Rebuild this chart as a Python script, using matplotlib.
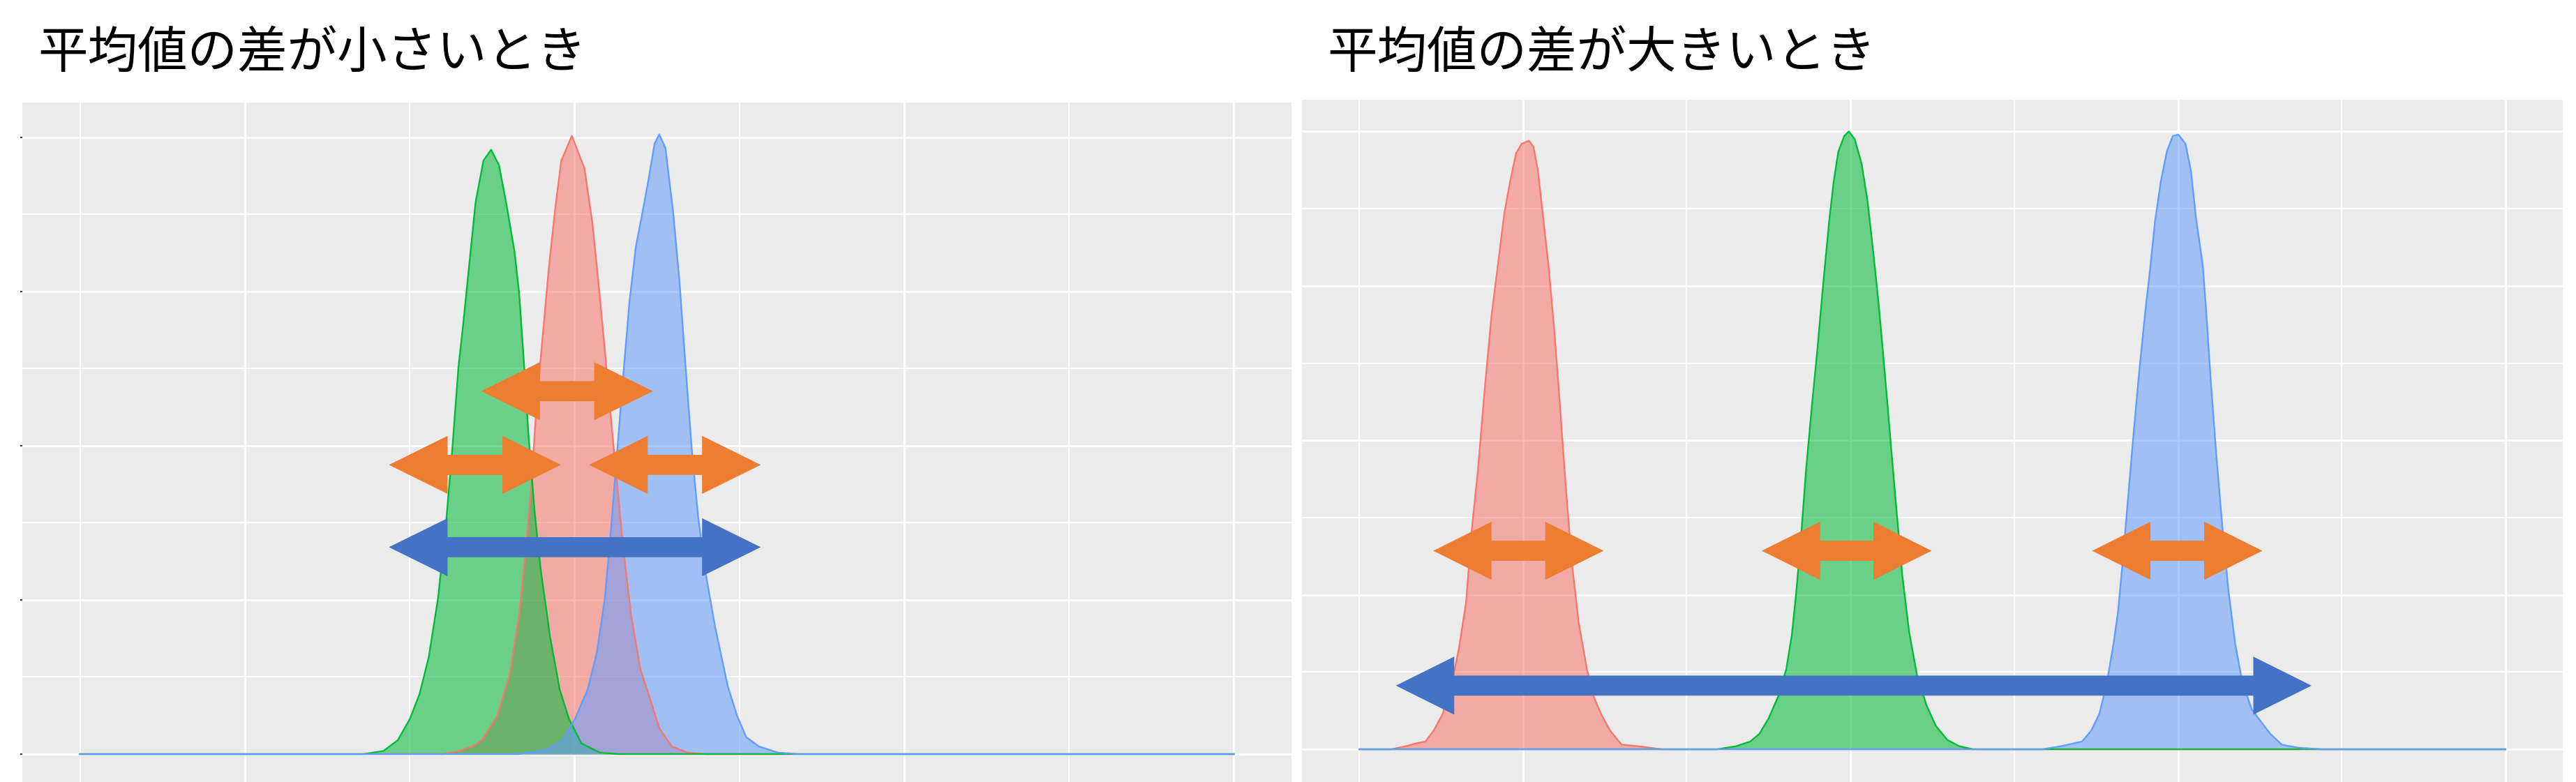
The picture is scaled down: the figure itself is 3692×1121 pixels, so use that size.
import matplotlib
matplotlib.use("Agg")
import matplotlib.pyplot as plt
from matplotlib.patches import Polygon

# density curves (x, density)
small_red_x = [0, 11.0, 11.5, 11.9, 12.19, 12.66, 13.04, 13.32, 13.51, 13.70, 13.84, 14.03, 14.22, 14.41, 14.60,
               14.92, 15.30, 15.54, 15.73, 15.92, 16.10, 16.29, 16.48, 16.72, 17.00, 17.29, 17.57, 17.95, 18.42,
               19.0, 35]
small_red_y = [0, 0, 0.002, 0.005, 0.009, 0.025, 0.052, 0.090, 0.130, 0.176, 0.224, 0.270, 0.315, 0.353, 0.385,
               0.401, 0.380, 0.345, 0.305, 0.262, 0.219, 0.176, 0.133, 0.090, 0.055, 0.036, 0.017, 0.005, 0.001,
               0, 0]
small_green_x = [0, 8.6, 9.2, 9.64, 10.01, 10.30, 10.58, 10.86, 11.10, 11.29, 11.48, 11.62, 11.81, 12.0, 12.24,
                 12.47, 12.71, 12.94, 13.18, 13.32, 13.46, 13.60, 13.79, 13.98, 14.26, 14.55, 14.83, 15.21, 15.77,
                 16.3, 35]
small_green_y = [0, 0, 0.002, 0.009, 0.023, 0.039, 0.063, 0.101, 0.149, 0.197, 0.251, 0.278, 0.318, 0.358, 0.385,
                 0.392, 0.382, 0.356, 0.326, 0.299, 0.256, 0.208, 0.157, 0.119, 0.076, 0.042, 0.023, 0.007, 0.001,
                 0, 0]
small_blue_x = [0, 13.3, 14.17, 14.64, 15.02, 15.40, 15.68, 15.92, 16.10, 16.29, 16.48, 16.67, 16.86, 17.05, 17.24,
                17.43, 17.57, 17.76, 18.00, 18.19, 18.37, 18.56, 18.75, 18.98, 19.27, 19.65, 19.93, 20.21, 20.59,
                21.16, 21.8, 35]
small_blue_y = [0, 0, 0.003, 0.009, 0.023, 0.042, 0.066, 0.101, 0.144, 0.195, 0.246, 0.294, 0.329, 0.350, 0.372,
                0.396, 0.402, 0.393, 0.350, 0.305, 0.251, 0.197, 0.154, 0.117, 0.082, 0.044, 0.025, 0.011, 0.005,
                0.001, 0, 0]

large_red_x = [0, 0.99, 1.42, 1.77, 2.02, 2.27, 2.55, 2.84, 3.05, 3.26, 3.44, 3.62, 3.83, 4.04, 4.26, 4.43, 4.61,
               4.79, 4.96, 5.18, 5.32, 5.46, 5.60, 5.78, 5.96, 6.13, 6.31, 6.49, 6.70, 6.95, 7.16, 7.38, 7.66,
               8.01, 8.51, 9.22, 35]
large_red_y = [0, 0, 0.002, 0.004, 0.005, 0.012, 0.023, 0.044, 0.066, 0.095, 0.143, 0.180, 0.233, 0.281, 0.318,
               0.347, 0.368, 0.386, 0.392, 0.394, 0.390, 0.374, 0.347, 0.313, 0.270, 0.222, 0.169, 0.121, 0.082,
               0.052, 0.034, 0.023, 0.012, 0.003, 0.002, 0, 0]
large_green_x = [0, 10.94, 11.51, 11.94, 12.22, 12.50, 12.79, 13.04, 13.21, 13.35, 13.50, 13.64, 13.82, 13.99,
                 14.17, 14.35, 14.49, 14.63, 14.81, 14.95, 15.13, 15.34, 15.52, 15.70, 15.87, 16.05, 16.23, 16.40,
                 16.58, 16.79, 17.04, 17.33, 17.61, 17.96, 18.32, 18.74, 35]
large_green_y = [0, 0, 0.002, 0.005, 0.010, 0.020, 0.034, 0.052, 0.074, 0.103, 0.140, 0.180, 0.222, 0.259, 0.302,
                 0.342, 0.368, 0.387, 0.397, 0.400, 0.395, 0.379, 0.355, 0.321, 0.286, 0.243, 0.198, 0.156, 0.113,
                 0.076, 0.047, 0.028, 0.015, 0.006, 0.002, 0, 0]
large_blue_x = [0, 20.87, 21.43, 22.07, 22.35, 22.60, 22.82, 23.03, 23.17, 23.31, 23.45, 23.63, 23.81, 23.99,
                24.16, 24.30, 24.48, 24.66, 24.84, 25.01, 25.23, 25.40, 25.55, 25.76, 25.87, 26.01, 26.18, 26.36,
                26.54, 26.75, 26.96, 27.25, 27.53, 27.82, 28.17, 28.67, 29.38, 35]
large_blue_y = [0, 0, 0.002, 0.005, 0.012, 0.023, 0.042, 0.068, 0.089, 0.121, 0.156, 0.201, 0.243, 0.281, 0.313,
                0.342, 0.368, 0.387, 0.397, 0.398, 0.392, 0.374, 0.344, 0.313, 0.281, 0.236, 0.188, 0.143, 0.103,
                0.068, 0.044, 0.026, 0.018, 0.010, 0.003, 0.001, 0, 0]

titles = ["平均値の差が小さいとき", "平均値の差が大きいとき"]

# annotation arrows (x start, x end, y)
small_orange = [(12.17, 17.38, 0.2354), (9.37, 14.59, 0.1876), (15.44, 20.65, 0.1876)]
small_blue = [(9.37, 20.65, 0.1342)]
large_orange = [(2.26, 7.46, 0.1285), (12.29, 17.48, 0.1285), (22.38, 27.58, 0.1285)]
large_blue = [(1.12, 29.08, 0.0412)]

RED, GREEN, BLUE = "#F8766D", "#00BA38", "#619CFF"
ORANGE_AR, BLUE_AR = "#ED7D31", "#4472C4"


def double_arrow(ax, x0, x1, y, color):
    hl, hh, sh = 1.78, 0.0188, 0.0065
    pts = [(x0, y), (x0 + hl, y + hh), (x0 + hl, y + sh), (x1 - hl, y + sh), (x1 - hl, y + hh),
           (x1, y), (x1 - hl, y - hh), (x1 - hl, y - sh), (x0 + hl, y - sh), (x0 + hl, y - hh)]
    ax.add_patch(Polygon(pts, closed=True, facecolor=color, edgecolor="none", zorder=5))


def setup(ax, ylim, ticks):
    ax.set_facecolor("#EBEBEB")
    ax.set_xlim(-1.75, 36.75)
    ax.set_ylim(*ylim)
    ax.set_xticks([5, 15, 25, 35])
    ax.set_xticks([0, 10, 20, 30], minor=True)
    ax.set_yticks([0, 0.1, 0.2, 0.3, 0.4])
    ax.set_yticks([0.05, 0.15, 0.25, 0.35], minor=True)
    ax.grid(which="major", color="white", lw=2.2)
    ax.grid(which="minor", color="white", lw=1.4)
    ax.set_axisbelow(True)
    for s in ax.spines.values():
        s.set_visible(False)
    ax.tick_params(which="both", labelleft=False, labelbottom=False, bottom=False)
    ax.tick_params(which="minor", left=False)
    if ticks:
        ax.tick_params(axis="y", which="major", length=2.2, width=1.4, color="#333333")
    else:
        ax.tick_params(axis="y", which="major", left=False)


def curves(ax, series):
    for xs, ys, c in series:
        ax.fill_between(xs, ys, 0, color=c, alpha=0.55, lw=0, zorder=2)
        ax.plot(xs, ys, color=c, lw=1.7, zorder=3)


W, H = 3692, 1121
fig = plt.figure(figsize=(W / 100, H / 100), dpi=100)

ax1 = fig.add_axes([32 / W, 0, 1819 / W, (H - 147) / H])
setup(ax1, (-0.0181, 0.4226), True)
curves(ax1, [(small_red_x, small_red_y, RED), (small_green_x, small_green_y, GREEN),
             (small_blue_x, small_blue_y, BLUE)])
for a in small_orange:
    double_arrow(ax1, *a, ORANGE_AR)
for a in small_blue:
    double_arrow(ax1, *a, BLUE_AR)

ax2 = fig.add_axes([1866 / W, 0, 1807 / W, (H - 143) / H])
setup(ax2, (-0.0212, 0.4205), False)
curves(ax2, [(large_red_x, large_red_y, RED), (large_green_x, large_green_y, GREEN),
             (large_blue_x, large_blue_y, BLUE)])
for a in large_orange:
    double_arrow(ax2, *a, ORANGE_AR)
for a in large_blue:
    double_arrow(ax2, *a, BLUE_AR)

jp = ["Noto Sans CJK JP", "DejaVu Sans"]
fig.text(54 / W, 1 - 77 / H, titles[0], fontsize=51.5, family=jp, va="center", ha="left")
fig.text(1902 / W, 1 - 77 / H, titles[1], fontsize=51.5, family=jp, va="center", ha="left")

fig.savefig("out.png", dpi=100, facecolor="white")
